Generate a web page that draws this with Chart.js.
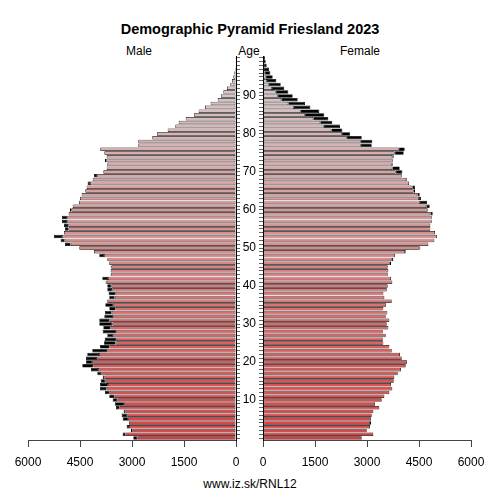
<!DOCTYPE html>
<html>
<head>
<meta charset="utf-8">
<script src="https://cdn.jsdelivr.net/npm/chart.js@4.4.1/dist/chart.umd.min.js"></script>
<style>
  html, body { margin: 0; padding: 0; background: #fff; }
  #wrap { position: relative; width: 500px; height: 500px; overflow: hidden;
          font-family: "Liberation Sans", Arial, sans-serif; color: #000; }
  .txt { position: absolute; white-space: nowrap; line-height: 1; }
  canvas { position: absolute; top: 0; }
</style>
</head>
<body>
<div id="wrap">
  <div class="txt" id="title" style="left:0;width:500px;text-align:center;top:22px;font-size:14.5px;font-weight:bold;">Demographic Pyramid Friesland 2023</div>
  <div class="txt" style="left:109px;width:60px;text-align:center;top:45px;font-size:12px;">Male</div>
  <div class="txt" style="left:219px;width:60px;text-align:center;top:45px;font-size:12px;">Age</div>
  <div class="txt" style="left:330px;width:60px;text-align:center;top:45px;font-size:12px;">Female</div>
  <div class="txt" style="left:0;width:500px;text-align:center;top:478px;font-size:12px;">www.iz.sk/RNL12</div>
  <canvas id="maleChart" width="240" height="500" style="left:0;"></canvas>
  <canvas id="femaleChart" width="260" height="500" style="left:240px;"></canvas>
</div>
<script>
// ages 0..100
const ages = Array.from({ length: 101 }, (_, i) => i);

const male = [
  2962, 3270, 3029, 3155, 3087, 3270, 3299, 3241, 3462, 3491,
  3558, 3655, 3779, 3924, 3924, 3904, 3846, 4001, 4183, 4433,
  4327, 4327, 4289, 4145, 3924, 3808, 3789, 3712, 3846, 3827,
  3943, 3943, 3798, 3779, 3655, 3770, 3712, 3655, 3674, 3712,
  3712, 3760, 3856, 3616, 3616, 3616, 3655, 3712, 3943, 4097,
  4520, 4933, 5058, 5251, 4962, 4933, 4962, 5020, 5020, 4828,
  4789, 4712, 4530, 4501, 4453, 4347, 4308, 4280, 4135, 4097,
  3827, 3731, 3712, 3779, 3731, 3798, 3914, 2818, 2818, 2414,
  2279, 1971, 1750, 1654, 1452, 1212, 1077, 894, 731, 529,
  433, 365, 260, 163, 115, 77, 48, 29, 19, 10,
  5
];

const female = [
  2847, 3183, 2991, 3087, 3116, 3116, 3135, 3184, 3356, 3231,
  3424, 3501, 3645, 3731, 3693, 3770, 3789, 3885, 3981, 4116,
  4154, 4001, 3952, 3712, 3645, 3472, 3453, 3539, 3453, 3616,
  3568, 3645, 3539, 3587, 3472, 3549, 3712, 3501, 3472, 3568,
  3597, 3731, 3693, 3597, 3616, 3597, 3693, 3760, 3808, 4116,
  4539, 4770, 4943, 5020, 4962, 4828, 4828, 4866, 4866, 4895,
  4751, 4808, 4731, 4558, 4520, 4385, 4385, 4212, 4154, 4001,
  4020, 3943, 3741, 3741, 3770, 4058, 4087, 3135, 3154, 2847,
  2510, 2289, 2221, 2000, 1885, 1769, 1625, 1366, 1212, 1000,
  856, 731, 615, 510, 385, 279, 212, 173, 106, 77,
  58
];

const xTicks = [0, 1500, 3000, 4500, 6000];
const ageLabels = [10, 20, 30, 40, 50, 60, 70, 80, 90];

// shared part of each bar is coloured, the surplus of one sex is black
const common = male.map((m, i) => Math.min(m, female[i]));
const maleExtra = male.map((m, i) => m - common[i]);
const femaleExtra = female.map((f, i) => f - common[i]);

// red at age 0 fading to grey at 100
const barColors = ages.map(a => {
  const g = Math.round(60 + 1.5 * a);
  return `rgb(${Math.round(222 - 0.08 * a)},${g},${g})`;
});

Chart.defaults.font.family = '"Liberation Sans", Arial, sans-serif';
Chart.defaults.font.size = 12;
Chart.defaults.color = '#000';

function barSets(extra) {
  const base = { borderColor: '#000', borderWidth: 0.7, borderSkipped: false,
                 barPercentage: 0.92, categoryPercentage: 1 };
  return [
    Object.assign({ data: common, backgroundColor: barColors }, base),
    Object.assign({ data: extra, backgroundColor: '#000' }, base)
  ];
}

function xScale(reverse) {
  return {
    type: 'linear', reverse: reverse, min: 0, max: 6000, stacked: true,
    afterBuildTicks(s) { s.ticks = xTicks.map(v => ({ value: v })); },
    ticks: { padding: 8, maxRotation: 0, autoSkip: false, font: { size: 12 },
             callback: v => String(v) },
    grid: { drawOnChartArea: false, tickLength: 7, color: '#444', lineWidth: 1 },
    border: { color: '#444', width: 1 },
    afterFit(s) { s.height = 60; }
  };
}

// left half: males, axis reversed
new Chart(document.getElementById('maleChart'), {
  type: 'bar',
  data: { labels: ages, datasets: barSets(maleExtra) },
  options: {
    indexAxis: 'y', responsive: false, animation: false,
    layout: { padding: { left: 28, right: 0, top: 56, bottom: 0 } },
    plugins: { legend: { display: false }, tooltip: { enabled: false } },
    scales: {
      x: xScale(true),
      y: {
        reverse: true, stacked: true, position: 'right',
        ticks: { display: false, autoSkip: false },
        grid: { offset: false, drawOnChartArea: false, tickLength: 4, color: '#666' },
        border: { color: '#000' },
        afterFit(s) { s.width = 4; }
      }
    }
  }
});

// right half: females, age labels sit on its left axis
new Chart(document.getElementById('femaleChart'), {
  type: 'bar',
  data: { labels: ages, datasets: barSets(femaleExtra) },
  options: {
    indexAxis: 'y', responsive: false, animation: false,
    layout: { padding: { left: 0, right: 29, top: 56, bottom: 0 } },
    plugins: { legend: { display: false }, tooltip: { enabled: false } },
    scales: {
      x: xScale(false),
      y: {
        reverse: true, stacked: true, position: 'left',
        ticks: {
          autoSkip: false, padding: 3, font: { size: 12 },
          callback(v) { const a = ages[v]; return ageLabels.includes(a) ? String(a) : ''; }
        },
        grid: { offset: false, drawOnChartArea: false, tickLength: 4, color: '#666' },
        border: { color: '#000' },
        afterFit(s) { s.width = 23; }
      }
    }
  }
});
</script>
</body>
</html>
